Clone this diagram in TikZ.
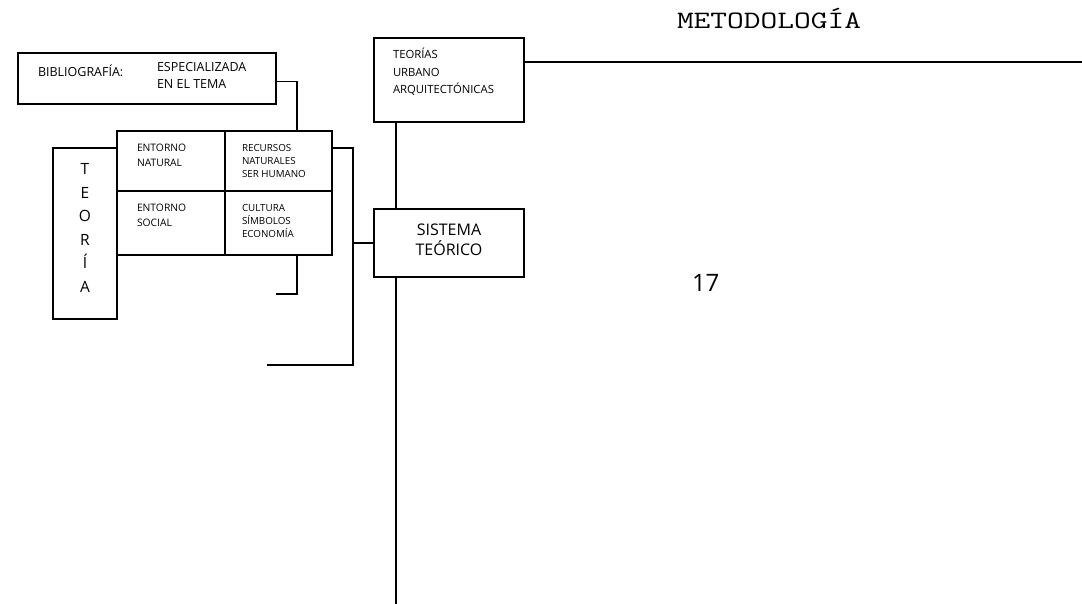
\documentclass[tikz,border=0pt]{standalone}
\usepackage{fontspec}
\setmainfont{Open Sans}
\begin{document}
\begin{tikzpicture}[x=1pt,y=-1pt,
  box/.style={draw, line width=1.8pt, rectangle, inner sep=0pt, outer sep=0pt},
  wire/.style={line width=1.8pt},
  lbl/.style={inner sep=0pt, outer sep=0pt, anchor=base west},
  clbl/.style={inner sep=0pt, outer sep=0pt, anchor=base},
  fbib/.style={font=\fontsize{12.5}{15}\selectfont},
  fcellA/.style={font=\fontsize{10.3}{12}\selectfont},
  fcellB/.style={font=\fontsize{9.8}{12}\selectfont},
  fteo/.style={font=\fontsize{15.5}{18}\selectfont},
  fteos/.style={font=\fontsize{11.3}{13}\selectfont},
  fsis/.style={font=\fontsize{16}{18}\selectfont},
]
\useasboundingbox (0,0) rectangle (1082,604);

% boxes
\node[box, minimum width=258pt, minimum height=51pt] (bib) at (147,78.5) {};
\node[box, minimum width=64pt, minimum height=171pt] (teoria) at (85,233.5) {};
\node[box, minimum width=108pt, minimum height=60pt] (c11) at (171,161) {};
\node[box, minimum width=107pt, minimum height=60pt] (c12) at (278.5,161) {};
\node[box, minimum width=108pt, minimum height=64pt] (c21) at (171,223) {};
\node[box, minimum width=107pt, minimum height=64pt] (c22) at (278.5,223) {};
\node[box, minimum width=150pt, minimum height=84pt] (teorias) at (449,80) {};
\node[box, minimum width=150pt, minimum height=68pt] (sistema) at (449,243) {};

% free ends
\coordinate (j1) at (297,131);
\coordinate (b1) at (353,365);
\coordinate (e1) at (267,365);
\coordinate (j2) at (297,255);
\coordinate (e2) at (276,294);
\coordinate (e3) at (1082,62);
\coordinate (e4) at (396,604);

% connectors
\draw[wire] ([yshift=-3pt]bib.east) -| (j1);
\draw[wire] ([yshift=13pt]c12.east) -| (b1) -- (e1);
\draw[wire] (sistema.west) -- (sistema.west -| b1);
\draw[wire] (j2) |- (e2);
\draw[wire] ([yshift=18pt]teorias.east) -- (e3);
\draw[wire] ([xshift=-53pt]teorias.south) -- ([xshift=-53pt]sistema.north);
\draw[wire] ([xshift=-53pt]sistema.south) -- (e4);

% texts
\node[lbl, fbib] (tb1) at (38,77) {BIBLIOGRAFÍA:};
\node[lbl, fbib] (tb2) at (157,72) {ESPECIALIZADA};
\node[lbl, fbib] (tb3) at (157,89) {EN EL TEMA};

\node[lbl, fcellA] (ta1) at (137,151.5) {ENTORNO};
\node[lbl, fcellA] (ta2) at (137,166.5) {NATURAL};
\node[lbl, fcellA] (ta3) at (137,212) {ENTORNO};
\node[lbl, fcellA] (ta4) at (137,227) {SOCIAL};

\node[lbl, fcellB] (tr1) at (242,151.5) {RECURSOS};
\node[lbl, fcellB] (tr2) at (242,164.5) {NATURALES};
\node[lbl, fcellB] (tr3) at (242,177.5) {SER HUMANO};
\node[lbl, fcellB] (tr4) at (242,211.5) {CULTURA};
\node[lbl, fcellB] (tr5) at (242,224.5) {SÍMBOLOS};
\node[lbl, fcellB] (tr6) at (242,237.5) {ECONOMÍA};

\node[clbl, fteo] (l1) at (85,175) {T};
\node[clbl, fteo] (l2) at (85,198.4) {E};
\node[clbl, fteo] (l3) at (85,221.8) {O};
\node[clbl, fteo] (l4) at (85,245.2) {R};
\node[clbl, fteo] (l5) at (85,268.6) {Í};
\node[clbl, fteo] (l6) at (85,292) {A};

\node[lbl, fteos] (tt1) at (393,59) {TEORÍAS};
\node[lbl, fteos] (tt2) at (393,76.5) {URBANO};
\node[lbl, fteos] (tt3) at (393,94) {ARQUITECTÓNICAS};

\node[clbl, fsis] (ts1) at (449,236) {SISTEMA};
\node[clbl, fsis] (ts2) at (449,255) {TEÓRICO};

\node[lbl, font=\ttfamily\fontsize{25}{28}\selectfont] (met) at (677,28.3) {\scalebox{1.3}[1]{METODOLOGÍA}};
\node[lbl, font=\fontsize{24}{28}\selectfont] (pg) at (692,291.7) {17};
\end{tikzpicture}
\end{document}
